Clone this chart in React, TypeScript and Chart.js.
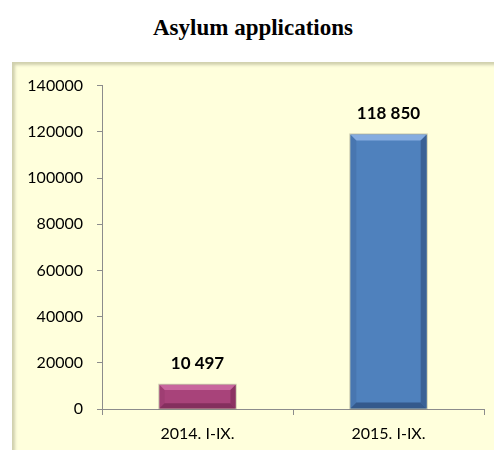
import React, { useEffect, useRef } from "react";
import { Chart, registerables } from "chart.js";

Chart.register(...registerables);

const title = "Asylum applications";
const categories = ["2014. I-IX.", "2015. I-IX."];
const values = [10497, 118850];
const valueLabels = ["10 497", "118 850"];
const barColors = ["#A8437A", "#4F81BD"];
const highlightColors = ["#C8669E", "#85ACE0"];
const shadowColors = ["#842F5E", "#34598C"];
const yMax = 140000;
const yStep = 20000;

const bevelPlugin = {
  id: "bevel",
  afterDatasetsDraw(chart: any) {
    const ctx = chart.ctx;
    const meta = chart.getDatasetMeta(0);
    meta.data.forEach((bar: any, i: number) => {
      const left = bar.x - bar.width / 2;
      const right = bar.x + bar.width / 2;
      const top = bar.y;
      const bottom = bar.base;
      const h = bottom - top;
      const b = Math.min(6, h / 4.5);
      ctx.save();
      // top highlight
      ctx.fillStyle = highlightColors[i];
      ctx.beginPath();
      ctx.moveTo(left, top);
      ctx.lineTo(right, top);
      ctx.lineTo(right - b, top + b);
      ctx.lineTo(left + b, top + b);
      ctx.closePath();
      ctx.fill();
      // bottom shadow
      ctx.fillStyle = shadowColors[i];
      ctx.beginPath();
      ctx.moveTo(left, bottom);
      ctx.lineTo(right, bottom);
      ctx.lineTo(right - b, bottom - b);
      ctx.lineTo(left + b, bottom - b);
      ctx.closePath();
      ctx.fill();
      // right side shadow
      ctx.globalAlpha = 0.8;
      ctx.beginPath();
      ctx.moveTo(right, top);
      ctx.lineTo(right, bottom);
      ctx.lineTo(right - b, bottom - b);
      ctx.lineTo(right - b, top + b);
      ctx.closePath();
      ctx.fill();
      // left side slight
      ctx.globalAlpha = 0.25;
      ctx.beginPath();
      ctx.moveTo(left, top);
      ctx.lineTo(left, bottom);
      ctx.lineTo(left + b, bottom - b);
      ctx.lineTo(left + b, top + b);
      ctx.closePath();
      ctx.fill();
      ctx.globalAlpha = 1;
      // outline glow
      ctx.strokeStyle = "rgba(130,130,110,0.4)";
      ctx.lineWidth = 1;
      ctx.strokeRect(left - 0.5, top - 0.5, right - left + 1, h + 1);
      // value label
      ctx.fillStyle = "#000";
      ctx.font = "bold 17px Lato";
      ctx.textAlign = "center";
      ctx.textBaseline = "middle";
      ctx.fillText(valueLabels[i], bar.x, top - 21);
      ctx.restore();
    });
  },
};

export default function App() {
  const ref = useRef<HTMLCanvasElement>(null);
  useEffect(() => {
    if (!ref.current) return;
    const chart = new Chart(ref.current, {
      type: "bar",
      data: {
        labels: categories,
        datasets: [
          {
            data: values,
            backgroundColor: barColors,
            borderWidth: 0,
            barPercentage: 0.4,
            categoryPercentage: 1,
          },
        ],
      },
      options: {
        animation: false,
        responsive: false,
        maintainAspectRatio: false,
        layout: { padding: { top: 21, right: 10, left: 0, bottom: 0 } },
        plugins: {
          legend: { display: false },
          tooltip: { enabled: false },
        },
        scales: {
          x: {
            grid: {
              drawOnChartArea: false,
              drawTicks: true,
              tickLength: 6,
              color: "#8C8C8C",
              offset: true,
            },
            border: { display: true, color: "#8C8C8C" },
            ticks: {
              color: "#000",
              font: { family: "Lato", size: 16 },
              padding: 9,
            },
            afterFit: (s: any) => {
              s.height = 41;
            },
          },
          y: {
            min: 0,
            max: yMax,
            grid: {
              drawOnChartArea: false,
              drawTicks: true,
              tickLength: 5,
              color: "#8C8C8C",
            },
            border: { display: true, color: "#8C8C8C" },
            ticks: {
              stepSize: yStep,
              color: "#000",
              font: { family: "Lato", size: 16 },
              padding: 14,
              callback: (v: any) => String(v),
            },
            afterFit: (s: any) => {
              s.width = 90;
            },
          },
        },
      },
      plugins: [bevelPlugin],
    });
    return () => chart.destroy();
  }, []);

  return (
    <div
      style={{
        position: "fixed",
        left: 0,
        top: 0,
        width: 494,
        height: 450,
        background: "#fff",
        overflow: "hidden",
      }}
    >
      <div
        style={{
          position: "absolute",
          left: 12,
          width: 482,
          top: 13,
          textAlign: "center",
          fontFamily: "'Liberation Serif', 'Times New Roman', serif",
          fontWeight: "bold",
          fontSize: 23,
          lineHeight: "30px",
          color: "#000",
        }}
      >
        {title}
      </div>
      <div
        style={{
          position: "absolute",
          left: 12,
          top: 62,
          width: 482,
          height: 388,
          background: "#FFFFDC",
          boxShadow: "inset 3px 3px 3px rgba(120,120,90,0.35)",
        }}
      >
        <canvas ref={ref} width={482} height={388} style={{ display: "block" }} />
      </div>
    </div>
  );
}
